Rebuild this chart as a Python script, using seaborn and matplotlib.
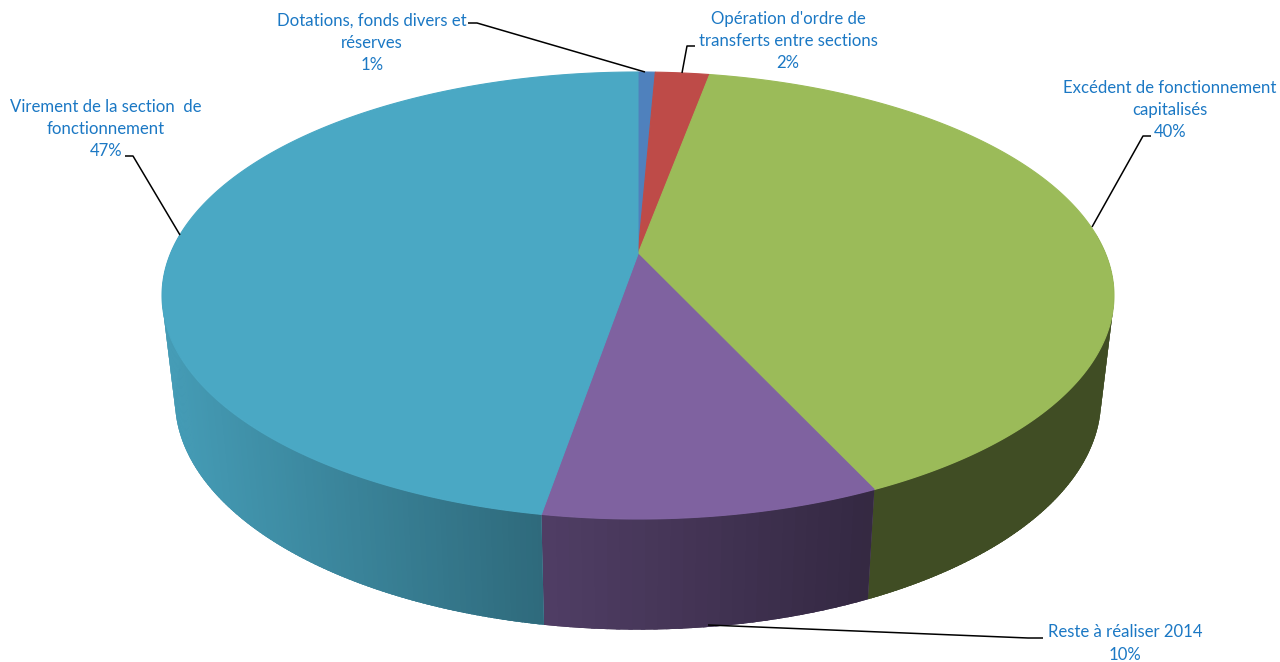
import numpy as np
import seaborn as sns
import matplotlib.pyplot as plt

# Slices, clockwise from 12 o'clock
categories = [
    "Dotations, fonds divers et\nréserves",
    "Opération d'ordre de\ntransferts entre sections",
    "Excédent de fonctionnement\ncapitalisés",
    "Reste à réaliser 2014",
    "Virement de la section  de\nfonctionnement",
]
values = [0.7, 2.2, 40.2, 9.6, 47.3]
shown_pct = [1, 2, 40, 10, 47]
slice_colors = ["#4F81BD", "#BE4B48", "#9BBB59", "#7F62A0", "#4AA8C4"]

# Label placement in pixels (centre x, centre y)
label_pos = [(372, 43), (788, 41), (1170, 110), (1125, 643.5), (106, 129)]
leaders = [
    [(468, 23), (477, 23), (645, 72)],
    [(695, 46), (687, 46), (682, 73)],
    [(1151, 136), (1143, 136), (1092, 227)],
    [(1043, 638), (1028, 638), (708, 625)],
    [(125, 156), (133, 156), (180, 235)],
]

# Perspective of the pie disc
CX = 638
K = 0.1857
TOP = dict(a=467.7, y0=254, b=215.8)
BOTTOM = dict(a=455.0, y0=357, b=222.0)


def project(angle, disc):
    # angle in radians, clockwise from the far side of the disc
    w = 1 + K * np.cos(angle)
    return CX + disc["a"] * np.sin(angle) / w, disc["y0"] - disc["b"] * np.cos(angle) / w


def wall_shade(x):
    # side wall gets darker from left to right
    return np.interp(x, [175, 543, 868, 1114], [0.93, 0.63, 0.41, 0.41])


sns.set_theme(style="white")
plt.rcParams["font.family"] = ["Lato", "DejaVu Sans"]
palette = sns.color_palette(slice_colors)

fig = plt.figure(figsize=(12.8, 6.62), dpi=100)
ax = fig.add_axes([0, 0, 1, 1])
ax.set_xlim(0, 1280)
ax.set_ylim(662, 0)
ax.axis("off")

edges = np.cumsum([0] + values) / sum(values) * 2 * np.pi

# Side wall: a solid base for each slice, then shaded strips on top
for i, color in enumerate(palette):
    grid = np.linspace(edges[i], edges[i + 1], 200)
    grid = grid[np.cos(grid) < 0.1]
    if len(grid) < 2:
        continue
    xt, yt = project(grid, TOP)
    xb, yb = project(grid[::-1], BOTTOM)
    shade = wall_shade(np.mean(xb))
    base = tuple(v * shade for v in color)
    ax.fill(np.r_[xt, xb], np.r_[yt, yb], color=base, lw=0, zorder=2)

    steps = np.linspace(grid[0], grid[-1], max(int(values[i] * 3), 3))
    for a0, a1 in zip(steps[:-1], steps[1:]):
        lo, hi = max(a0 - 0.004, grid[0]), min(a1 + 0.004, grid[-1])
        fine = np.linspace(lo, hi, 6)
        xt, yt = project(fine, TOP)
        xb, yb = project(fine[::-1], BOTTOM)
        c = tuple(v * wall_shade(np.mean(xb)) for v in color)
        ax.fill(np.r_[xt, xb], np.r_[yt, yb], color=c, lw=0, zorder=2)

# Top of the disc
for i, color in enumerate(palette):
    grid = np.linspace(edges[i], edges[i + 1], max(int(values[i] * 8), 3))
    x, y = project(grid, TOP)
    ax.fill(np.r_[CX, x], np.r_[TOP["y0"], y], color=color, lw=0.8, zorder=3)

# Leader lines and labels
for pts in leaders:
    xs, ys = zip(*pts)
    ax.plot(xs, ys, color="black", lw=1.1, zorder=4, solid_capstyle="butt")

for name, pct, (x, y) in zip(categories, shown_pct, label_pos):
    ax.text(x, y, f"{name}\n{pct}%", ha="center", va="center", fontsize=12.1,
            color="#1B78C4", linespacing=1.48, zorder=5)

plt.savefig("out.png", dpi=100)
